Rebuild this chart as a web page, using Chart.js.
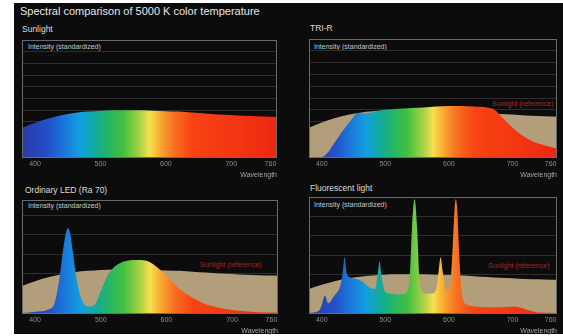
<!DOCTYPE html>
<html>
<head>
<meta charset="utf-8">
<script src="https://cdn.jsdelivr.net/npm/chart.js@4.4.1/dist/chart.umd.min.js"></script>
<style>
  body { margin: 0; background: #fff; width: 563px; height: 336px; overflow: hidden; font-family: "Liberation Sans", Arial, sans-serif; }
  #bg { position: absolute; left: 14px; top: 3px; width: 549px; height: 331px; background: #0c0c0c; }
  canvas { position: absolute; }
  .t { position: absolute; white-space: nowrap; line-height: 1; }
  .main { font-size: 11px; color: #e6e6e6; }
  .panel { font-size: 8.5px; color: #dcdcdc; }
  .ytitle { font-size: 7px; color: #c8c8c8; }
  .ref { font-size: 7px; color: #a82424; }
</style>
</head>
<body>
<div id="bg"></div>
<div class="t main" style="left:20px;top:6px">Spectral comparison of 5000 K color temperature</div>

<div class="t panel" style="left:22px;top:25px">Sunlight</div>
<div class="t panel" style="left:310px;top:24px">TRI-R</div>
<div class="t panel" style="left:25px;top:186px">Ordinary LED (Ra 70)</div>
<div class="t panel" style="left:310px;top:184px">Fluorescent light</div>

<div class="t ytitle" style="left:28px;top:43px">Intensity (standardized)</div>
<div class="t ytitle" style="left:314px;top:43px">Intensity (standardized)</div>
<div class="t ytitle" style="left:28px;top:202px">Intensity (standardized)</div>
<div class="t ytitle" style="left:314px;top:201px">Intensity (standardized)</div>

<div class="t ref" style="left:492px;top:100px">Sunlight (reference)</div>
<div class="t ref" style="left:200px;top:261px">Sunlight (reference)</div>
<div class="t ref" style="left:488px;top:262px">Sunlight (reference)</div>

<canvas id="c1" width="275" height="141" style="left:12px;top:40px"></canvas>
<canvas id="c2" width="268" height="142" style="left:299px;top:39px"></canvas>
<canvas id="c3" width="276" height="137" style="left:12px;top:200px"></canvas>
<canvas id="c4" width="268" height="140" style="left:299px;top:197px"></canvas>

<script>
// wavelength axis (nm)
const xMin = 380;
const xMax = 770;
const tickValues = [400, 500, 600, 700, 760];

// 5000 K sunlight reference spectrum (relative intensity)
const sunWl  = [380, 400, 420, 440, 460, 480, 500, 520, 540, 560, 580, 600, 620, 640, 660, 680, 700, 720, 740, 760, 780];
const sunVal = [0.62, 0.73, 0.82, 0.89, 0.94, 0.97, 0.99, 1.0, 1.0, 1.0, 0.99, 0.98, 0.97, 0.95, 0.93, 0.91, 0.9, 0.88, 0.87, 0.86, 0.85];

// TRI-R
const trirWl  = [380, 400, 410, 420, 430, 440, 450, 455, 465, 480, 500, 520, 540, 560, 580, 600, 620, 640, 660, 672, 685, 700, 715, 730, 750, 770, 780];
const trirVal = [0, 0, 0.1, 0.3, 0.5, 0.68, 0.85, 0.93, 0.92, 0.95, 1.0, 1.02, 1.04, 1.05, 1.07, 1.08, 1.08, 1.07, 1.05, 1.0, 0.82, 0.62, 0.46, 0.34, 0.25, 0.18, 0.15];

// ordinary LED (Ra 70)
const ledWl  = [380, 400, 420, 430, 437, 443, 447, 450, 453, 457, 463, 470, 480, 490, 500, 510, 520, 530, 540, 550, 560, 570, 580, 590, 600, 610, 620, 640, 660, 680, 700, 720, 740, 760, 780];
const ledVal = [0, 0.03, 0.08, 0.25, 0.8, 1.5, 1.85, 1.95, 1.85, 1.45, 0.8, 0.35, 0.15, 0.18, 0.5, 0.85, 1.05, 1.15, 1.2, 1.22, 1.22, 1.2, 1.12, 1.0, 0.85, 0.7, 0.55, 0.35, 0.2, 0.12, 0.07, 0.04, 0.02, 0.01, 0];

// fluorescent light
const fluoWl  = [380, 395, 400, 405, 410, 420, 430, 433, 436, 439, 445, 455, 465, 475, 484, 488, 491, 494, 500, 510, 520, 530, 538, 542, 546, 550, 554, 562, 572, 580, 584, 587, 590, 596, 602, 606, 609, 611, 613, 616, 620, 628, 640, 660, 680, 700, 710, 720, 730, 740, 780];
const fluoVal = [0, 0.05, 0.2, 0.45, 0.25, 0.45, 0.75, 1.05, 1.45, 1.05, 0.92, 0.88, 0.8, 0.66, 0.62, 1.0, 1.33, 0.95, 0.55, 0.5, 0.48, 0.5, 0.8, 2.2, 2.95, 2.2, 0.8, 0.5, 0.5, 0.6, 1.1, 1.44, 1.1, 0.6, 0.7, 1.7, 2.7, 2.95, 2.7, 1.6, 0.55, 0.22, 0.17, 0.15, 0.15, 0.16, 0.15, 0.1, 0.05, 0.01, 0];

// spectrum colours along the wavelength axis
const rainbowWl  = [380, 420, 445, 470, 490, 510, 535, 560, 575, 592, 612, 640, 780];
const rainbowCol = ['#2c3aa8', '#2250c8', '#1a78da', '#12a0e0', '#10aaa0', '#22b46a', '#44c040', '#a8d244', '#f6e050', '#f8a830', '#f87022', '#f84414', '#ec2810'];

const refColor = 'rgb(178,158,122)';

function pts(wl, val) {
  return wl.map((w, i) => ({ x: w, y: val[i] }));
}

function spectrumFill(ctx) {
  const chart = ctx.chart;
  const area = chart.chartArea;
  if (!area) return '#f84414';
  const x = chart.scales.x;
  const g = chart.ctx.createLinearGradient(area.left, 0, area.right, 0);
  rainbowWl.forEach((w, i) => {
    const p = (x.getPixelForValue(w) - area.left) / (area.right - area.left);
    g.addColorStop(Math.min(1, Math.max(0, p)), rainbowCol[i]);
  });
  return g;
}

const boxPlugin = {
  id: 'box',
  afterDraw(chart) {
    const a = chart.chartArea;
    const c = chart.ctx;
    c.save();
    c.strokeStyle = '#6a6a6a';
    c.lineWidth = 1;
    c.strokeRect(a.left + 0.5, a.top + 0.5, a.right - a.left - 1, a.bottom - a.top);
    c.restore();
  }
};

function makeChart(id, datasets, yMax, yStep) {
  return new Chart(document.getElementById(id), {
    type: 'line',
    data: { datasets: datasets },
    options: {
      responsive: false,
      animation: false,
      devicePixelRatio: 1,
      layout: { padding: { left: 10, right: 10, top: 0, bottom: 0 } },
      plugins: { legend: { display: false }, tooltip: { enabled: false } },
      elements: {
        point: { radius: 0 },
        line: { borderWidth: 0, tension: 0.4, cubicInterpolationMode: 'monotone' }
      },
      scales: {
        x: {
          type: 'linear', min: xMin, max: xMax,
          afterBuildTicks: s => { s.ticks = tickValues.map(v => ({ value: v })); },
          afterFit: s => { s.height = 24; },
          grid: { display: false, drawTicks: false },
          border: { display: false },
          ticks: { color: '#8c8c8c', font: { size: 7 }, padding: 3, maxRotation: 0 },
          title: { display: true, text: 'Wavelength', align: 'end', color: '#a8a8a8', font: { size: 7 }, padding: { top: 0, bottom: 2 } }
        },
        y: {
          min: 0, max: yMax,
          afterFit: s => { s.width = 0; },
          ticks: { display: false, stepSize: yStep },
          grid: { color: '#2e2e2e', drawTicks: false },
          border: { display: false }
        }
      }
    },
    plugins: [boxPlugin]
  });
}

function refSet() {
  return { data: pts(sunWl, sunVal), fill: 'origin', backgroundColor: refColor, order: 1 };
}

makeChart('c1', [
  { data: pts(sunWl, sunVal), fill: 'origin', backgroundColor: spectrumFill, order: 0 }
], 2.5, 0.25);

makeChart('c2', [
  { data: pts(trirWl, trirVal), fill: 'origin', backgroundColor: spectrumFill, order: 0 },
  refSet()
], 2.5, 0.25);

makeChart('c3', [
  { data: pts(ledWl, ledVal), fill: 'origin', backgroundColor: spectrumFill, order: 0 },
  refSet()
], 2.6, 0.45);

makeChart('c4', [
  { data: pts(fluoWl, fluoVal), fill: 'origin', backgroundColor: spectrumFill, order: 0 },
  refSet()
], 3.0, 0.5);
</script>
</body>
</html>
